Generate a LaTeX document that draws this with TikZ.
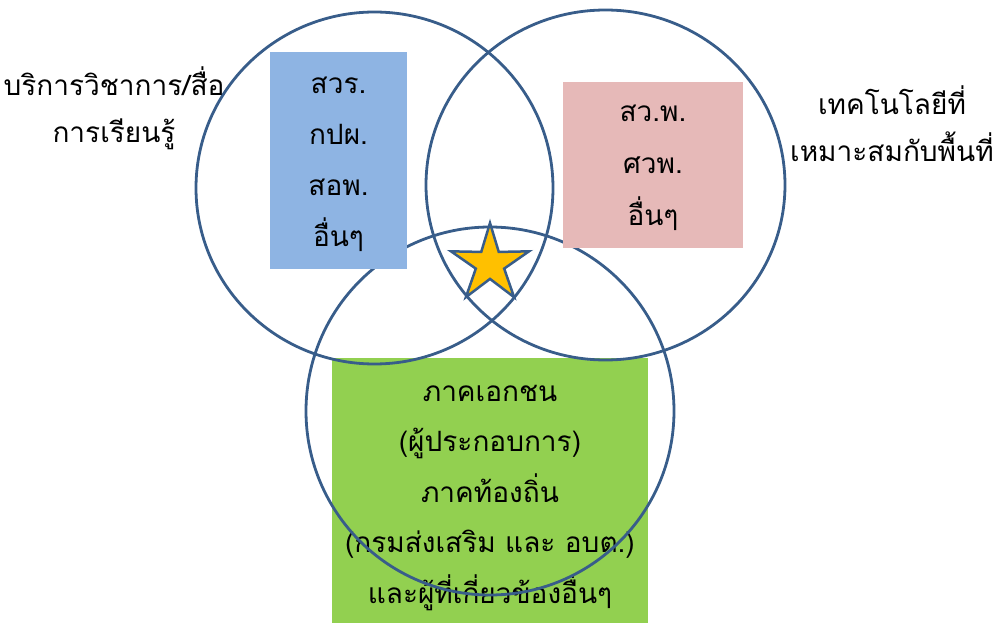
\documentclass[tikz,border=0pt]{standalone}
\usepackage{fontspec}
\newfontfamily\thaifont[Script=Thai]{Loma}
\usetikzlibrary{shapes.geometric}
\definecolor{ringblue}{HTML}{385D8A}
\definecolor{boxblue}{HTML}{8EB4E3}
\definecolor{boxpink}{HTML}{E6B9B8}
\definecolor{boxgreen}{HTML}{92D050}
\definecolor{stargold}{HTML}{FFC000}
\tikzset{
  ring/.style={draw=ringblue, line width=2.8pt, ellipse, inner sep=0pt},
  panel/.style={rectangle, inner sep=0pt, minimum width=#1},
  panel/.default=10pt,
  paneltext/.style={align=center, inner sep=0pt, text=black,
    font=\thaifont\fontsize{28}{51}\selectfont},
  label/.style={align=center, inner sep=0pt, text=black,
    font=\thaifont\fontsize{28}{47}\selectfont},
}
\begin{document}
\begin{tikzpicture}[x=1pt,y=-1pt]
\useasboundingbox (0,0) rectangle (997,623);
% green panel under rings
\node[panel=316pt, fill=boxgreen, minimum height=265pt] (green) at (490,490.5) {};
\node[paneltext, font=\thaifont\fontsize{28}{50.5}\selectfont] (greentext) at (490,498)
  {ภาคเอกชน\\(ผู้ประกอบการ)\\ภาคท้องถิ่น\\(กรมส่งเสริม และ อบต.)\\และผู้ที่เกี่ยวข้องอื่นๆ};
% rings
\node[ring, minimum width=357pt, minimum height=352pt] (leftring) at (374.5,188) {};
\node[ring, minimum width=359pt, minimum height=350pt] (rightring) at (605.5,185) {};
\node[ring, minimum width=368pt, minimum height=368pt] (bottomring) at (490,411) {};
% panels over rings
\node[panel=137pt, fill=boxblue, minimum height=217pt] (blue) at (338.5,160.5) {};
\node[paneltext] (bluetext) at (338.5,164) {สวร.\\กปผ.\\สอพ.\\อื่นๆ};
\node[panel=180pt, fill=boxpink, minimum height=166pt] (pink) at (653,165) {};
\node[paneltext, font=\thaifont\fontsize{28}{52}\selectfont] (pinktext) at (653,168)
  {สว.พ.\\ศวพ.\\อื่นๆ};
% star
\node[star, star points=5, star point ratio=2.75, minimum size=82pt, inner sep=0pt,
  fill=stargold, draw=ringblue, line width=2.5pt] (centerstar) at (490,264) {};
% outside labels
\node[label] (leftlabel) at (114,108) {บริการวิชาการ/สื่อ\\การเรียนรู้};
\node[label] (rightlabel) at (892,124) {เทคโนโลยีที่\\เหมาะสมกับพื้นที่};
\end{tikzpicture}
\end{document}
